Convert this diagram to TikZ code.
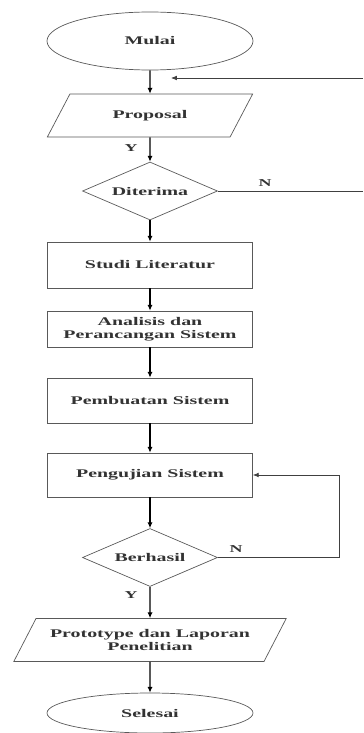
\documentclass[tikz,border=0pt]{standalone}
\usepackage{fontspec}
\setmainfont{Liberation Serif}[FakeStretch=1.7]
\usetikzlibrary{shapes.geometric,arrows.meta}

\tikzset{
  base/.style={draw=black!65,line width=.6pt,text=black!80,font=\fontsize{10}{11}\selectfont\bfseries,align=center,inner sep=1pt},
  terminal/.style={base,ellipse,minimum width=6.18cm},
  process/.style={base,rectangle,minimum width=6.15cm},
  io/.style={base,trapezium,trapezium left angle=50,trapezium right angle=130,trapezium stretches=true,minimum height=1.29cm},
  decision/.style={base,diamond,aspect=2.3,inner sep=0pt,minimum width=4.05cm,minimum height=1.74cm},
  flow/.style={black,line width=.9pt,-{Latex[length=5pt,width=4.5pt]}},
  back/.style={black!75,line width=.6pt},
  yn/.style={font=\fontsize{9}{10}\selectfont\bfseries,text=black!80}
}

\begin{document}
\begin{tikzpicture}[x=0.03cm,y=-0.03cm]
  \useasboundingbox (0,0) rectangle (363,733);
  \node[terminal,minimum height=1.74cm] (mulai) at (150,41) {Mulai};
  \node[io,minimum width=6.18cm] (proposal) at (150,115.5) {Proposal};
  \node[decision] (diterima) at (150,191) {Diterima};
  \node[process,minimum height=1.38cm] (studi) at (150,265) {Studi Literatur};
  \node[process,minimum height=1.08cm] (analisis) at (150,329) {Analisis dan\\Perancangan Sistem};
  \node[process,minimum height=1.35cm] (pembuatan) at (150,400.5) {Pembuatan Sistem};
  \node[process,minimum height=1.32cm] (pengujian) at (150,475) {Pengujian Sistem};
  \node[decision] (berhasil) at (150,557.5) {Berhasil};
  \node[io,minimum width=8.19cm] (prototype) at (150,640) {Prototype dan Laporan\\Penelitian};
  \node[terminal,minimum height=1.2cm] (selesai) at (150,713) {Selesai};

  % main flow
  \draw[flow] (mulai) -- (proposal);
  \draw[flow] (proposal) -- (diterima);
  \draw[flow] (diterima) -- (studi);
  \draw[flow] (studi) -- (analisis);
  \draw[flow] (analisis) -- (pembuatan);
  \draw[flow] (pembuatan) -- (pengujian);
  \draw[flow] (pengujian) -- (berhasil);
  \draw[flow] (berhasil) -- (prototype);
  \draw[flow] (prototype) -- (selesai);

  % loop back when the proposal is rejected
  \coordinate (ntop) at (363,191);
  \coordinate (rtop) at (363,78);
  \coordinate (rtip) at (171,78);
  \draw[back] (diterima.east) -- (ntop);
  \draw[back,-{Latex[length=5pt,width=4pt]}] (rtop) -- (rtip);

  % loop back when testing fails
  \coordinate (nbot) at (339,557.5);
  \draw[back,-{Latex[length=5pt,width=4pt]}] (berhasil.east) -- (nbot) |- (pengujian.east);

  \node[yn] (y1) at (131,148) {Y};
  \node[yn] (n1) at (265,183) {N};
  \node[yn] (n2) at (236,549) {N};
  \node[yn] (y2) at (131,595) {Y};
\end{tikzpicture}
\end{document}
